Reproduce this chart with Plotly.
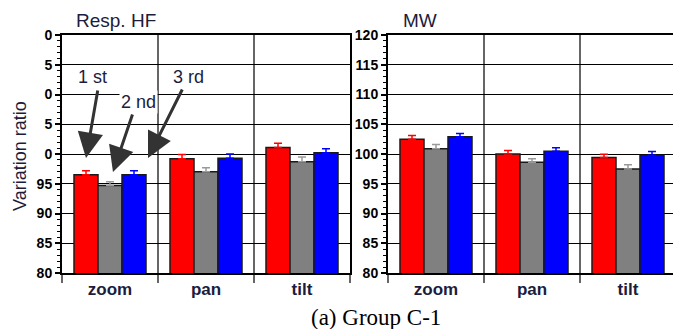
import plotly.graph_objects as go

categories = ["zoom", "pan", "tilt"]
series_names = ["1 st", "2 nd", "3 rd"]
bar_colors = ["#ff0000", "#808080", "#0000ff"]
err_colors = ["#ff0000", "#9a9a9a", "#0000ff"]

hf_values = [[96.5, 99.2, 101.1], [94.7, 97.0, 98.7], [96.5, 99.3, 100.2]]
hf_errors = [[0.7, 0.7, 0.7], [0.65, 0.7, 0.8], [0.7, 0.7, 0.7]]
mw_values = [[102.5, 100.0, 99.4], [100.9, 98.6, 97.5], [102.9, 100.45, 99.8]]
mw_errors = [[0.6, 0.6, 0.55], [0.7, 0.6, 0.7], [0.55, 0.6, 0.6]]

y_tickvals = [80, 85, 90, 95, 100, 105, 110, 115, 120]
hf_ticktext = ["80", "85", "90", "95", "0", "5", "0", "5", "0"]
mw_ticktext = ["80", "85", "90", "95", "100", "105", "110", "115", "120"]

W, H = 673, 329
TXT = "#1c1c3c"

fig = go.Figure()
for panel, (vals, errs) in enumerate([(hf_values, hf_errors), (mw_values, mw_errors)]):
    xa = "x" if panel == 0 else "x2"
    ya = "y" if panel == 0 else "y2"
    for i in range(3):
        fig.add_trace(go.Bar(
            x=categories, y=vals[i], name=series_names[i],
            marker=dict(color=bar_colors[i], line=dict(color="#1a1a1a", width=1.5)),
            error_y=dict(type="data", array=errs[i], arrayminus=[0] * 3, symmetric=False,
                         color=err_colors[i], thickness=1.5, width=4),
            xaxis=xa, yaxis=ya, showlegend=False, hoverinfo="skip",
        ))

ydom = [(H - 273) / H, (H - 35) / H]
xdom1 = [62 / W, 350 / W]
xdom2 = [388 / W, 1.0]

tickfont_y = dict(family="Liberation Sans Narrow, Arial Narrow, Arial", size=14, color="#000000")
xcommon = dict(type="category", tickson="boundaries", ticks="outside", ticklen=8,
               tickcolor="#666666", tickwidth=1.5, showgrid=True, gridcolor="#666666",
               gridwidth=1.5, showline=True, linecolor="#000000", linewidth=2, mirror=True,
               automargin=False,
               tickfont=dict(family="Arial", size=17, color=TXT), fixedrange=True)
ycommon = dict(range=[80, 120], tickmode="array", tickvals=y_tickvals, ticks="outside",
               ticklen=5, tickcolor="#000000", tickwidth=1.5, showgrid=True,
               gridcolor="#000000", gridwidth=1.3, showline=True, linecolor="#000000",
               linewidth=2, mirror=True, zeroline=False, tickfont=tickfont_y,
               automargin=False, fixedrange=True,
               minor=dict(tickmode="linear", tick0=80, dtick=1, ticks="outside", ticklen=3,
                          tickcolor="#000000", tickwidth=1, showgrid=False))

fig.update_layout(
    width=W, height=H, margin=dict(l=0, r=0, t=0, b=0),
    paper_bgcolor="white", plot_bgcolor="white",
    barmode="group", bargap=0.25, bargroupgap=0,
    xaxis=dict(domain=xdom1, range=[-0.5, 2.5], anchor="y",
               tickvals=categories, ticktext=["<b>%s</b>" % c for c in categories], **xcommon),
    xaxis2=dict(domain=xdom2, range=[-0.5, 2.5 - 3 / 96], anchor="y2",
                tickvals=categories, ticktext=["<b>%s</b>" % c for c in categories], **xcommon),
    yaxis=dict(domain=ydom, anchor="x", ticktext=["<b>%s</b>" % t for t in hf_ticktext], **ycommon),
    yaxis2=dict(domain=ydom, anchor="x2", ticktext=["<b>%s</b>" % t for t in mw_ticktext], **ycommon),
)

# arrows (tip in data coords of left panel, tail offset in px)
arrows = [(-0.25, 99.33, 12, -69), (0.031, 96.97, 20, -59), (0.396, 99.33, 35, -70)]
for x, y, ax, ay in arrows:
    fig.add_annotation(x=x, y=y, xref="x", yref="y", ax=ax, ay=ay, text="",
                       showarrow=True, arrowhead=2, arrowsize=1.7, arrowwidth=3,
                       arrowcolor="#333333", standoff=0, startstandoff=0)

labels = [("1 st", -0.1875, 112.94), ("2 nd", 0.302, 108.74), ("3 rd", 0.8125, 112.94)]
for t, x, y in labels:
    fig.add_annotation(x=x, y=y, xref="x", yref="y", text=t, showarrow=False,
                       xanchor="center", yanchor="middle",
                       bgcolor="white", borderpad=1,
                       font=dict(family="Arial", size=18, color=TXT))

def paper_text(text, px, py, size, family="Arial", color=TXT, angle=0):
    fig.add_annotation(x=px / W, y=(H - py) / H, xref="paper", yref="paper", text=text,
                       xanchor="center", yanchor="middle", textangle=angle,
                       showarrow=False, font=dict(family=family, size=size, color=color))

paper_text("Resp. HF", 116, 20, 19)
paper_text("MW", 420, 20, 19)
paper_text("Variation ratio", 20, 156, 18, angle=-90)
paper_text("(a) Group C-1", 376, 317, 23, family="Liberation Serif, Times New Roman, serif",
           color="#000000")

fig.write_html("out.html", config={"displayModeBar": False},
               post_script="document.body.style.margin='0';")
